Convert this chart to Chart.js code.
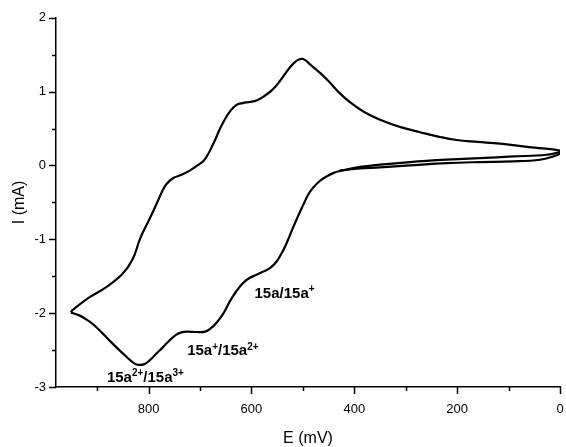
<!DOCTYPE html>
<html>
<head>
<meta charset="utf-8">
<script src="https://cdn.jsdelivr.net/npm/chart.js@4/dist/chart.umd.min.js"></script>
<style>
html,body{margin:0;padding:0;background:#fff;}
#wrap{width:566px;height:447px;position:relative;}
</style>
</head>
<body>
<div id="wrap"><canvas id="c" width="566" height="447"></canvas></div>
<script>
// Initial segment: from ~430 mV down to the 0 mV vertex
const startE = [428, 389, 350, 292, 220, 156, 91, 39, 13, -3, -6];
const startI = [-0.07, -0.04, -0.026, 0.001, 0.032, 0.046, 0.055, 0.078, 0.122, 0.167, 0.19];
// Forward sweep: 0 mV vertex -> 950 mV vertex (upper branch)
const forwardE = [-6, 10, 40, 80, 117, 160, 201, 233, 272, 310, 350, 380, 409, 430, 447, 466, 486, 496, 503, 512, 525, 545, 560, 577, 590, 603, 617, 629, 642, 652, 661, 675, 691, 705, 720, 737, 752, 765, 772, 791, 805, 817, 831, 851, 883, 916, 948, 951];
const forwardI = [0.19, 0.215, 0.235, 0.265, 0.295, 0.32, 0.345, 0.385, 0.45, 0.52, 0.62, 0.72, 0.86, 0.99, 1.12, 1.25, 1.37, 1.43, 1.445, 1.42, 1.33, 1.14, 1.02, 0.93, 0.88, 0.86, 0.845, 0.82, 0.73, 0.62, 0.50, 0.28, 0.08, 0.0, -0.07, -0.13, -0.17, -0.25, -0.33, -0.62, -0.82, -1.00, -1.27, -1.47, -1.65, -1.79, -1.96, -1.99];
// Reverse sweep: 950 mV vertex -> 0 mV vertex (lower branch)
const reverseE = [951, 935, 922, 908, 890, 876, 860, 843, 830, 820, 808, 798, 785, 772, 758, 746, 736, 726, 707, 690, 678, 668, 655, 642, 629, 616, 603, 590, 578, 564, 551, 539, 529, 519, 509, 499, 490, 480, 467, 454, 440, 428, 389, 350, 292, 220, 156, 91, 26, -6];
const reverseI = [-1.99, -2.03, -2.08, -2.15, -2.27, -2.37, -2.48, -2.59, -2.67, -2.70, -2.69, -2.64, -2.55, -2.46, -2.36, -2.29, -2.26, -2.25, -2.255, -2.25, -2.20, -2.13, -2.01, -1.84, -1.70, -1.59, -1.52, -1.48, -1.44, -1.39, -1.30, -1.16, -1.01, -0.84, -0.68, -0.53, -0.40, -0.30, -0.21, -0.15, -0.10, -0.075, -0.02, 0.011, 0.046, 0.078, 0.10, 0.122, 0.145, 0.19];
const xMajorTicks = [0, 200, 400, 600, 800];
const xMinorTicks = [100, 300, 500, 700, 900];
const yMajorTicks = [-3, -2, -1, 0, 1, 2];
const yMinorTicks = [-2.5, -1.5, -0.5, 0.5, 1.5];
// Redox couple labels (anchor E, anchor I, text runs with superscript flag)
const coupleLabels = [
  {e: 594, i: -1.79, parts: [["15a/15a", false], ["+", true]]},
  {e: 725, i: -2.57, parts: [["15a", false], ["+", true], ["/15a", false], ["2+", true]]},
  {e: 881, i: -2.93, parts: [["15a", false], ["2+", true], ["/15a", false], ["3+", true]]}
];

const toPts = (E, I) => E.map((e, k) => ({x: e, y: I[k]}));
const FONT = "'Liberation Sans', Arial, Helvetica, sans-serif";

const tickPlugin = {
  id: 'tickMarks',
  afterDraw(chart) {
    const ctx = chart.ctx, xs = chart.scales.x, ys = chart.scales.y;
    const ca = chart.chartArea;
    ctx.save();
    ctx.strokeStyle = '#000';
    ctx.lineWidth = 1.5;
    ctx.beginPath();
    xMajorTicks.forEach(v => { const p = Math.round(xs.getPixelForValue(v)) + 0.5; ctx.moveTo(p, ca.bottom); ctx.lineTo(p, ca.bottom + 7); });
    xMinorTicks.forEach(v => { const p = Math.round(xs.getPixelForValue(v)) + 0.5; ctx.moveTo(p, ca.bottom); ctx.lineTo(p, ca.bottom + 4); });
    yMajorTicks.forEach(v => { const p = Math.round(ys.getPixelForValue(v)) + 0.5; ctx.moveTo(ca.left, p); ctx.lineTo(ca.left - 7, p); });
    yMinorTicks.forEach(v => { const p = Math.round(ys.getPixelForValue(v)) + 0.5; ctx.moveTo(ca.left, p); ctx.lineTo(ca.left - 4, p); });
    ctx.stroke();
    ctx.restore();
  }
};

const labelPlugin = {
  id: 'coupleLabels',
  afterDatasetsDraw(chart) {
    const ctx = chart.ctx, xs = chart.scales.x, ys = chart.scales.y;
    ctx.save();
    ctx.fillStyle = '#000';
    ctx.textBaseline = 'alphabetic';
    ctx.textAlign = 'left';
    coupleLabels.forEach(lab => {
      let x = xs.getPixelForValue(lab.e);
      const y = ys.getPixelForValue(lab.i);
      lab.parts.forEach(([t, sup]) => {
        ctx.font = sup ? 'bold 10px ' + FONT : 'bold 15px ' + FONT;
        ctx.fillText(t, x, sup ? y - 5.5 : y);
        x += ctx.measureText(t).width;
      });
    });
    ctx.restore();
  }
};

const lineStyle = {showLine: true, borderColor: '#000', borderWidth: 2.2, pointRadius: 0, tension: 0.4, fill: false};

new Chart(document.getElementById('c'), {
  type: 'scatter',
  data: {
    datasets: [
      Object.assign({data: toPts(startE, startI)}, lineStyle),
      Object.assign({data: toPts(forwardE, forwardI)}, lineStyle),
      Object.assign({data: toPts(reverseE, reverseI)}, lineStyle)
    ]
  },
  options: {
    responsive: false,
    animation: false,
    layout: {padding: {top: 15, right: 6, left: 0, bottom: 0}},
    plugins: {legend: {display: false}, tooltip: {enabled: false}},
    scales: {
      x: {
        type: 'linear',
        reverse: true,
        min: 0,
        max: 980,
        afterBuildTicks(s) { s.ticks = xMajorTicks.map(v => ({value: v})); },
        afterFit(s) { s.height = 60; },
        grid: {display: true, drawOnChartArea: false, drawTicks: false, tickLength: 0},
        border: {display: true, color: '#000', width: 1.5},
        ticks: {color: '#000', padding: 15, font: {family: FONT, size: 13}, maxRotation: 0, autoSkip: false},
        title: {display: true, text: 'E (mV)', color: '#000', font: {family: FONT, size: 16, lineHeight: 1}, padding: {top: 0, bottom: 0}}
      },
      y: {
        type: 'linear',
        min: -3,
        max: 2,
        afterBuildTicks(s) { s.ticks = yMajorTicks.map(v => ({value: v})); },
        afterFit(s) { s.width = 56; },
        grid: {display: true, drawOnChartArea: false, drawTicks: false, tickLength: 0},
        border: {display: true, color: '#000', width: 1.5},
        ticks: {color: '#000', padding: 10, font: {family: FONT, size: 13}, autoSkip: false},
        title: {display: true, text: 'I (mA)', color: '#000', font: {family: FONT, size: 16, lineHeight: 1}, padding: {top: 12, bottom: 0}}
      }
    }
  },
  plugins: [tickPlugin, labelPlugin]
});
</script>
</body>
</html>
